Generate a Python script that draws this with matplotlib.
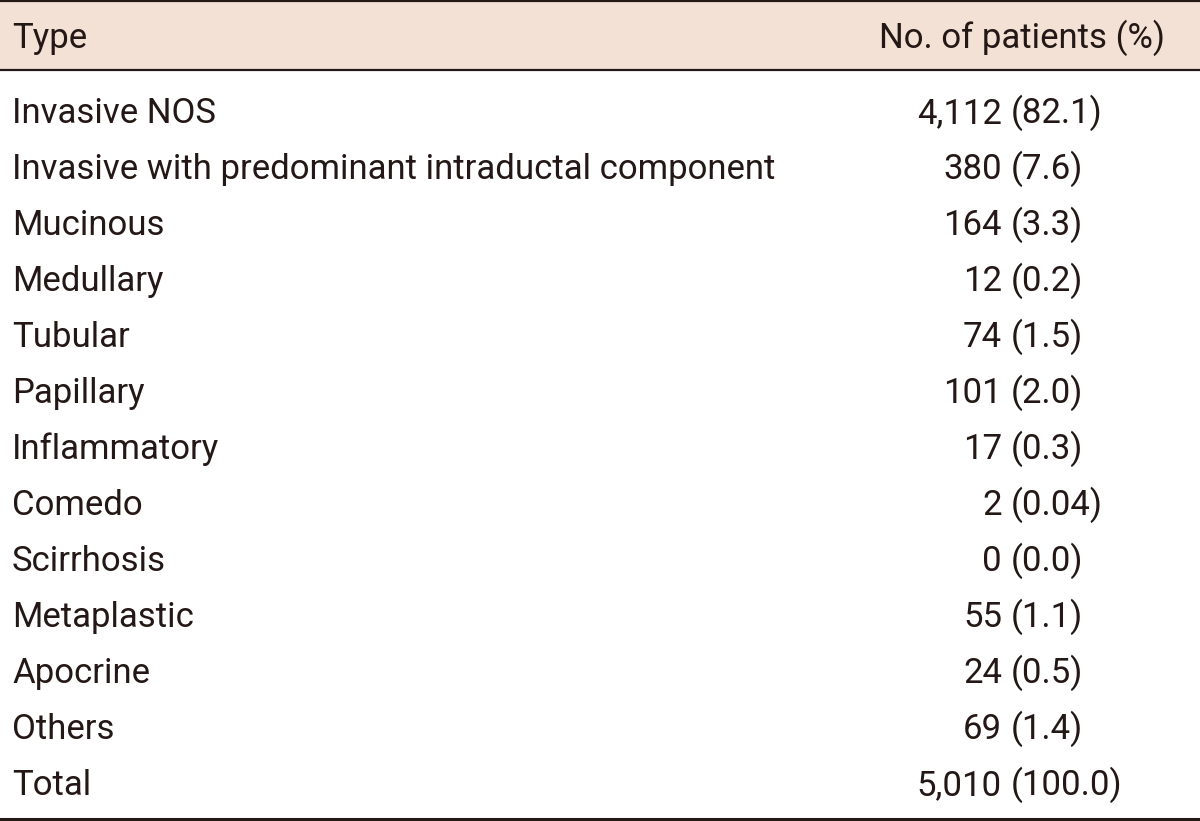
import matplotlib
matplotlib.use("Agg")
import matplotlib.pyplot as plt
from matplotlib.patches import Rectangle

types = ["Invasive NOS", "Invasive with predominant intraductal component",
         "Mucinous", "Medullary", "Tubular", "Papillary", "Inflammatory",
         "Comedo", "Scirrhosis", "Metaplastic", "Apocrine", "Others", "Total"]
counts = ["4,112", "380", "164", "12", "74", "101", "17", "2", "0", "55", "24", "69", "5,010"]
pcts = ["(82.1)", "(7.6)", "(3.3)", "(0.2)", "(1.5)", "(2.0)", "(0.3)", "(0.04)",
        "(0.0)", "(1.1)", "(0.5)", "(1.4)", "(100.0)"]
headers = ["Type", "No. of patients (%)"]

W, H = 1200, 821
FONT = ["Roboto", "DejaVu Sans"]
INK = "#231815"

fig = plt.figure(figsize=(W / 100, H / 100), dpi=100)
ax = fig.add_axes([0, 0, 1, 1])
ax.set_xlim(0, W)
ax.set_ylim(H, 0)
ax.axis("off")

# header band
ax.add_patch(Rectangle((0, 1), W, 69, facecolor="#f4e1d6", edgecolor="none"))
ax.plot([0, W], [1.5, 1.5], color=INK, lw=1.6)
ax.plot([0, W], [70, 70], color=INK, lw=1.6)
ax.plot([0, W], [819, 819], color=INK, lw=2.2)

fs = 25
kw = dict(fontsize=fs, family=FONT, weight="normal", color=INK, va="baseline")
ax.text(12, 48, headers[0], ha="left", **kw)
ax.text(1165, 48, headers[1], ha="right", **kw)

y0, step = 123, 56
for i, (t, c, p) in enumerate(zip(types, counts, pcts)):
    y = y0 + i * step
    ax.text(12, y, t, ha="left", **kw)
    ax.text(1002, y, c, ha="right", **kw)
    ax.text(1011, y, p, ha="left", **kw)

fig.savefig("out.png", dpi=100)
